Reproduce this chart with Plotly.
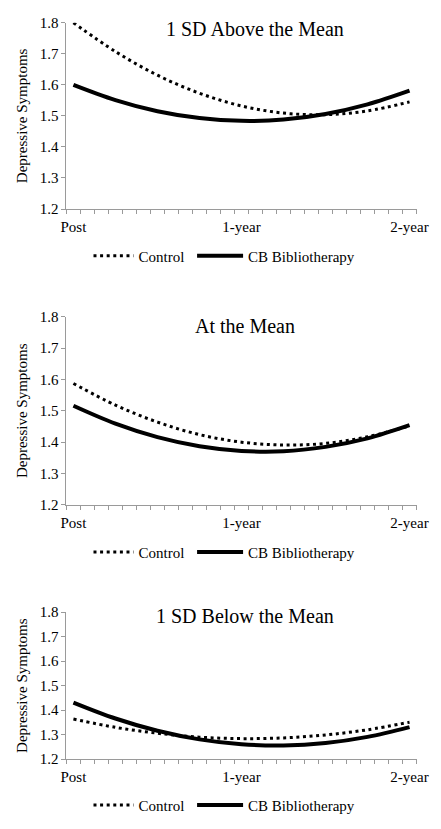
import plotly.graph_objects as go

# months since post-test
months = [0, 3, 6, 9, 12, 15, 18, 21, 24]
tick_vals = [0, 12, 24]
tick_text = ["Post", "1-year", "2-year"]
y_ticks = [1.2, 1.3, 1.4, 1.5, 1.6, 1.7, 1.8]

titles = ["1 SD Above the Mean", "At the Mean", "1 SD Below the Mean"]

control_above = [1.800, 1.707, 1.631, 1.573, 1.532, 1.509, 1.504, 1.516, 1.545]
cbb_above = [1.600, 1.551, 1.515, 1.493, 1.484, 1.488, 1.506, 1.537, 1.581]

control_mean = [1.587, 1.518, 1.464, 1.424, 1.400, 1.391, 1.396, 1.417, 1.452]
cbb_mean = [1.516, 1.459, 1.416, 1.387, 1.372, 1.371, 1.385, 1.412, 1.454]

control_below = [1.364, 1.330, 1.306, 1.290, 1.284, 1.287, 1.299, 1.320, 1.351]
cbb_below = [1.431, 1.366, 1.316, 1.281, 1.261, 1.256, 1.266, 1.291, 1.331]

panels = [
    (control_above, cbb_above),
    (control_mean, cbb_mean),
    (control_below, cbb_below),
]

W, H = 441, 829
FONT = "Liberation Serif"
AX = "#9a9a9a"

# pixel layout of each plot area (top, bottom)
plot_px = [(15, 205), (314.7, 506.7), (616, 766)]
x_px = (63, 428)
title_pos = [(260, 21), (249, 324), (249, 620)]
legend_y = [253, 555, 813]
legend_x = [86, 194]
legend_itemw = [40, 46]

fig = go.Figure()
boundaries = [m - 0.5 for m in range(0, 26)]

for i, (ctrl, cbb) in enumerate(panels):
    n = "" if i == 0 else str(i + 1)
    lg_a = "legend" + ("" if i == 0 else str(2 * i + 1))
    lg_b = "legend" + str(2 * i + 2)
    fig.add_trace(go.Scatter(
        x=months, y=ctrl, mode="lines", name="Control", line_shape="spline",
        line=dict(color="black", width=3, dash="3px,3.6px"),
        xaxis="x" + n, yaxis="y" + n, legend=lg_a, showlegend=True,
    ))
    fig.add_trace(go.Scatter(
        x=months, y=cbb, mode="lines", name="CB Bibliotherapy", line_shape="spline",
        line=dict(color="black", width=4),
        xaxis="x" + n, yaxis="y" + n, legend=lg_b, showlegend=True,
    ))
    top, bot = plot_px[i]
    ydom = [1 - bot / H, 1 - top / H]
    xdom = [x_px[0] / W, x_px[1] / W]
    xa = dict(
        domain=xdom, range=[-0.5, 24.5], anchor="y" + n,
        showline=True, linecolor=AX, linewidth=1,
        tickvals=tick_vals, ticktext=tick_text,
        ticks="outside", ticklen=4, tickcolor="rgba(0,0,0,0)",
        minor=dict(tickvals=boundaries, ticks="outside", ticklen=4,
                   tickcolor=AX, tickwidth=1, showgrid=False),
        showgrid=False, zeroline=False,
        tickfont=dict(family=FONT, size=15, color="black"),
        fixedrange=True,
    )
    ya = dict(
        domain=ydom, range=[1.2, 1.8], anchor="x" + n,
        showline=True, linecolor=AX, linewidth=1,
        tickvals=y_ticks, tickformat=".1f",
        ticks="outside", ticklen=4, tickcolor=AX,
        showgrid=False, zeroline=False,
        tickfont=dict(family=FONT, size=15, color="black"),
        title=dict(text="Depressive Symptoms", standoff=8,
                   font=dict(family=FONT, size=15, color="black")),
        fixedrange=True,
    )
    fig.layout["xaxis" + n] = xa
    fig.layout["yaxis" + n] = ya
    for lg, lx, iw in zip((lg_a, lg_b), legend_x, legend_itemw):
        fig.layout[lg] = dict(
            orientation="h", x=lx / W, xanchor="left", y=1 - legend_y[i] / H,
            yanchor="middle", font=dict(family=FONT, size=15, color="black"),
            bgcolor="rgba(0,0,0,0)", borderwidth=0, itemwidth=iw,
        )
    tx, ty = title_pos[i]
    fig.add_annotation(
        text=titles[i], x=tx / W, y=1 - ty / H, xref="paper", yref="paper",
        xanchor="center", yanchor="middle", showarrow=False,
        font=dict(family=FONT, size=20, color="black"),
    )

fig.update_layout(
    width=W, height=H, margin=dict(l=0, r=0, t=0, b=0),
    paper_bgcolor="white", plot_bgcolor="white",
)

fig.write_html("out.html")
